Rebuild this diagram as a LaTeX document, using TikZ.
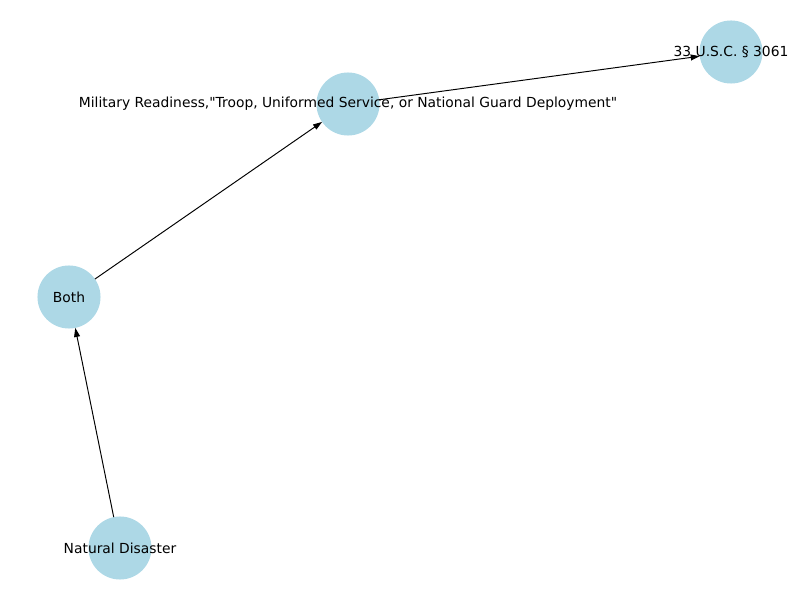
\documentclass[tikz,border=0pt]{standalone}
\usepackage{fontspec}
\setmainfont{DejaVu Sans}[Ligatures=TeXOff]
\usetikzlibrary{arrows.meta}

\begin{document}
\begin{tikzpicture}[x=0.01in,y=-0.01in,->,>={Triangle[length=2.3mm,width=1.5mm]},line width=0.7pt]
  \tikzstyle{every node}=[font=\fontsize{10}{12}\selectfont]
  \tikzstyle{topic}=[circle,fill={rgb,255:red,173;green,216;blue,230},draw=none,minimum size=0.63in,inner sep=0pt,outer sep=0pt]

  \useasboundingbox (0,0) rectangle (800,600);

  \node[topic,label=center:{33 U.S.C. § 3061}] (USC) at (731,52) {};
  \node[topic,label=center:{Military Readiness,"Troop, Uniformed Service, or National Guard Deployment"}] (MR) at (348,104) {};
  \node[topic,label=center:{Both}] (B) at (69,297) {};
  \node[topic,label=center:{Natural Disaster}] (ND) at (120,548) {};

  \path (ND) edge (B)
	(B) edge (MR)
	(MR) edge (USC);
\end{tikzpicture}
\end{document}
